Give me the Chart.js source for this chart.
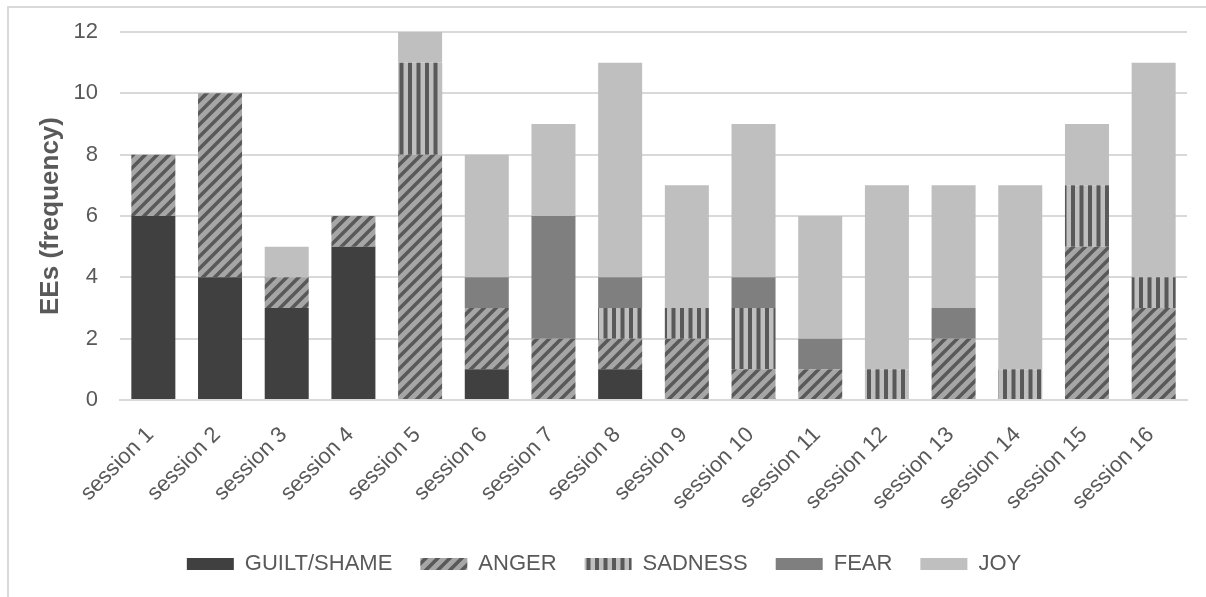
<!DOCTYPE html>
<html>
<head>
<meta charset="utf-8">
<script src="https://cdn.jsdelivr.net/npm/chart.js@4"></script>
<style>
  html, body { margin: 0; padding: 0; background: #ffffff; overflow: hidden; }
  #frame { position: absolute; left: 7px; top: 6px; width: 1400px; height: 800px;
           border-left: 2px solid #d9d9d9; border-top: 2px solid #d9d9d9; }
  #wrap { position: absolute; left: 0; top: 0; width: 1206px; height: 597px; }
</style>
</head>
<body>
<div id="frame"></div>
<div id="wrap"><canvas id="c" width="1206" height="597"></canvas></div>
<script>
const categories = ["session 1","session 2","session 3","session 4","session 5","session 6","session 7","session 8",
                    "session 9","session 10","session 11","session 12","session 13","session 14","session 15","session 16"];
const seriesNames = ["GUILT/SHAME","ANGER","SADNESS","FEAR","JOY"];
const guiltShame = [6,4,3,5,0,1,0,1,0,0,0,0,0,0,0,0];
const anger      = [2,6,1,1,8,2,2,1,2,1,1,0,2,0,5,3];
const sadness    = [0,0,0,0,3,0,0,1,1,2,0,1,0,1,2,1];
const fear       = [0,0,0,0,0,1,4,1,0,1,1,0,1,0,0,0];
const joy        = [0,0,1,0,1,4,3,7,4,5,4,6,4,6,2,7];
const yTicks     = [0,2,4,6,8,10,12];

function diagPattern() {
  const s = 12;
  const cv = document.createElement('canvas');
  cv.width = s; cv.height = s;
  const g = cv.getContext('2d');
  g.fillStyle = '#a6a6a6';
  g.fillRect(0, 0, s, s);
  g.strokeStyle = '#595959';
  g.lineWidth = 3.5;
  g.beginPath();
  g.moveTo(-2, s + 2); g.lineTo(s + 2, -2);
  g.moveTo(-2, 2); g.lineTo(2, -2);
  g.moveTo(s - 2, s + 2); g.lineTo(s + 2, s - 2);
  g.stroke();
  return g.createPattern(cv, 'repeat');
}
function vertPattern() {
  const cv = document.createElement('canvas');
  cv.width = 17; cv.height = 4;
  const g = cv.getContext('2d');
  g.fillStyle = '#bfbfbf';
  g.fillRect(0, 0, 17, 4);
  g.fillStyle = '#595959';
  g.fillRect(0, 0, 4, 4);
  g.fillRect(8.5, 0, 4, 4);
  return g.createPattern(cv, 'repeat');
}

const fills = ['#404040', diagPattern(), vertPattern(), '#7f7f7f', '#bfbfbf'];
const values = [guiltShame, anger, sadness, fear, joy];

const datasets = seriesNames.map((name, i) => ({
  label: name,
  data: values[i],
  backgroundColor: fills[i],
  borderWidth: 0,
  barPercentage: 0.66,
  categoryPercentage: 1.0
}));

const txt = '#595959';
const fam = '"Liberation Sans", Arial, sans-serif';
new Chart(document.getElementById('c'), {
  type: 'bar',
  data: { labels: categories, datasets: datasets },
  options: {
    responsive: false,
    animation: false,
    devicePixelRatio: 1,
    layout: { padding: { left: 21, right: 19, top: 32, bottom: 12 } },
    plugins: {
      tooltip: { enabled: false },
      legend: {
        position: 'bottom',
        labels: {
          boxWidth: 47, boxHeight: 12, padding: 28,
          color: txt,
          font: { family: fam, size: 22 }
        }
      }
    },
    scales: {
      x: {
        stacked: true,
        grid: { display: false, drawTicks: false },
        border: { display: true, color: '#d9d9d9', width: 2 },
        ticks: {
          color: txt, minRotation: 45, maxRotation: 45, padding: 22, labelOffset: -3,
          font: { family: fam, size: 22 }
        },
        afterFit: (s) => { s.height = 125; }
      },
      y: {
        stacked: true,
        min: 0, max: 12,
        afterBuildTicks: (s) => { s.ticks = yTicks.map(v => ({ value: v })); },
        grid: { color: '#d9d9d9', lineWidth: 2, drawTicks: false },
        border: { display: false },
        ticks: {
          color: txt, padding: 22,
          font: { family: fam, size: 22 }
        },
        title: {
          display: true, text: 'EEs (frequency)', color: txt,
          padding: { top: 14, bottom: 0 },
          font: { family: fam, size: 26, weight: 'bold' }
        },
        afterFit: (s) => { s.width = 99; s.paddingTop = 0; s.paddingBottom = 0; }
      }
    }
  }
});
</script>
</body>
</html>
